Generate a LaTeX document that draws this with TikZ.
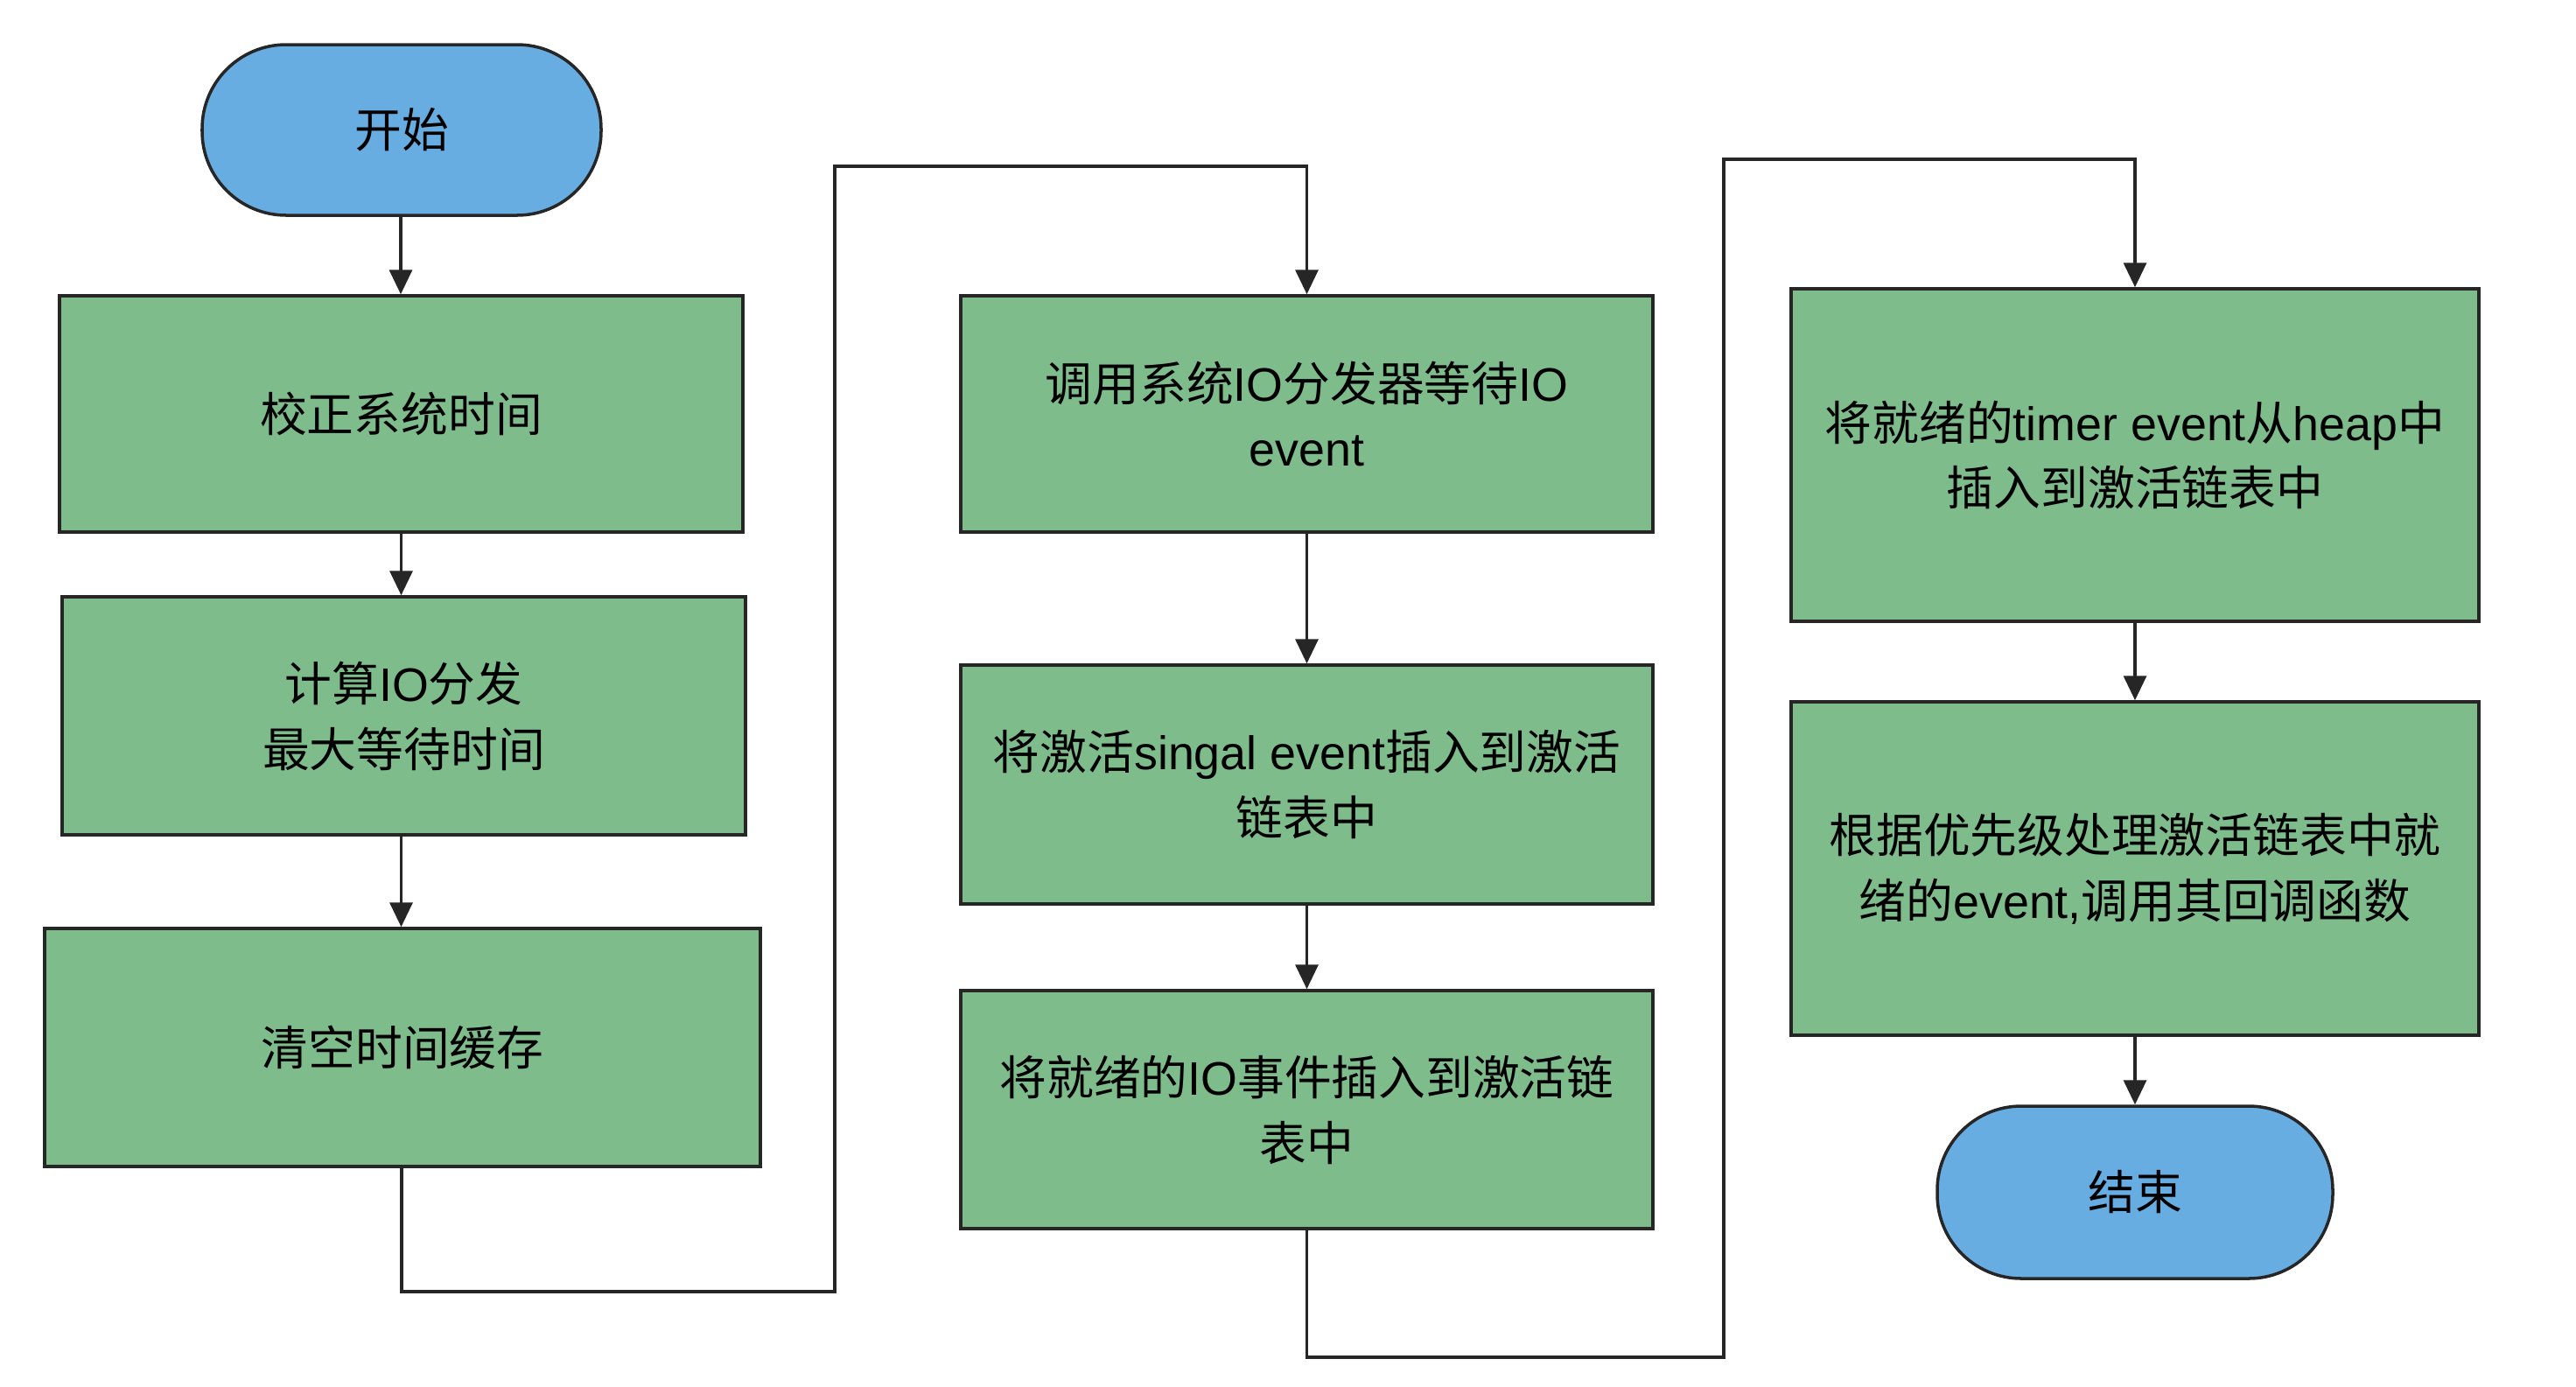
\documentclass[tikz,border=0pt]{standalone}
\usepackage{fontspec}
\setmainfont{Noto Sans CJK SC}
\newfontfamily\latf{Liberation Sans}
\newcommand\mylat[1]{{\latf #1}}
\usetikzlibrary{arrows.meta}
\definecolor{boxgreen}{RGB}{127,188,140}
\definecolor{termblue}{RGB}{103,173,225}
\tikzset{
  base/.style={draw=black!85, line width=1pt, inner sep=0pt, align=center,
    font=\fontsize{15.3pt}{21.3pt}\selectfont},
  stepbox/.style={base, fill=boxgreen, rectangle},
  term/.style={base, fill=termblue, rectangle, rounded corners=0.96cm},
  conn/.style={draw=black!85, line width=1pt, -{Triangle[length=2.8mm,width=2.6mm]}},
  connplain/.style={draw=black!85, line width=1pt}
}
\begin{document}
\begin{tikzpicture}
\useasboundingbox (0,0) rectangle (29.44,-15.84);
\node[term, minimum width=4.56cm, minimum height=1.95cm] (start) at (4.59,-1.485) {开始};
\node[stepbox, minimum width=7.81cm, minimum height=2.70cm] (b1) at (4.585,-4.73) {校正系统时间};
\node[stepbox, minimum width=7.81cm, minimum height=2.72cm] (b2) at (4.615,-8.18) {计算\mylat{IO}分发\\最大等待时间};
\node[stepbox, minimum width=8.18cm, minimum height=2.72cm] (b3) at (4.60,-11.97) {清空时间缓存};
\node[stepbox, minimum width=7.91cm, minimum height=2.70cm] (b4) at (14.935,-4.73) {调用系统\mylat{IO}分发器等待\mylat{IO}\\\mylat{event}};
\node[stepbox, minimum width=7.91cm, minimum height=2.73cm] (b5) at (14.935,-8.965) {将激活\mylat{singal event}插入到激活\\链表中};
\node[stepbox, minimum width=7.91cm, minimum height=2.72cm] (b6) at (14.935,-12.68) {将就绪的\mylat{IO}事件插入到激活链\\表中};
\node[stepbox, minimum width=7.86cm, minimum height=3.80cm] (b7) at (24.40,-5.20) {将就绪的\mylat{timer event}从\mylat{heap}中\\插入到激活链表中};
\node[stepbox, minimum width=7.86cm, minimum height=3.81cm] (b8) at (24.40,-9.925) {根据优先级处理激活链表中就\\绪的\mylat{event,}调用其回调函数};
\node[term, minimum width=4.52cm, minimum height=1.97cm] (end) at (24.40,-13.625) {结束};

\coordinate (c1) at (9.54,-14.76);
\coordinate (c2) at (9.54,-1.90);
\coordinate (c3) at (19.70,-15.51);
\coordinate (c4) at (19.70,-1.82);

\draw[conn] ([xshift=-0.01cm]start.south) -- ([xshift=-0.01cm]start.south |- b1.north);
\draw[conn] (b1.south) -- (b1.south |- b2.north);
\draw[conn] ([xshift=-0.03cm]b2.south) -- ([xshift=-0.03cm]b2.south |- b3.north);
\draw[conn] ([xshift=-0.01cm]b3.south) |- (c1) -- (c2) -| (b4.north);
\draw[conn] (b4.south) -- (b5.north);
\draw[conn] (b5.south) -- (b6.north);
\draw[conn] (b6.south) |- (c3) -- (c4) -| (b7.north);
\draw[conn] (b7.south) -- (b8.north);
\draw[conn] (b8.south) -- (end.north);
\end{tikzpicture}
\end{document}
